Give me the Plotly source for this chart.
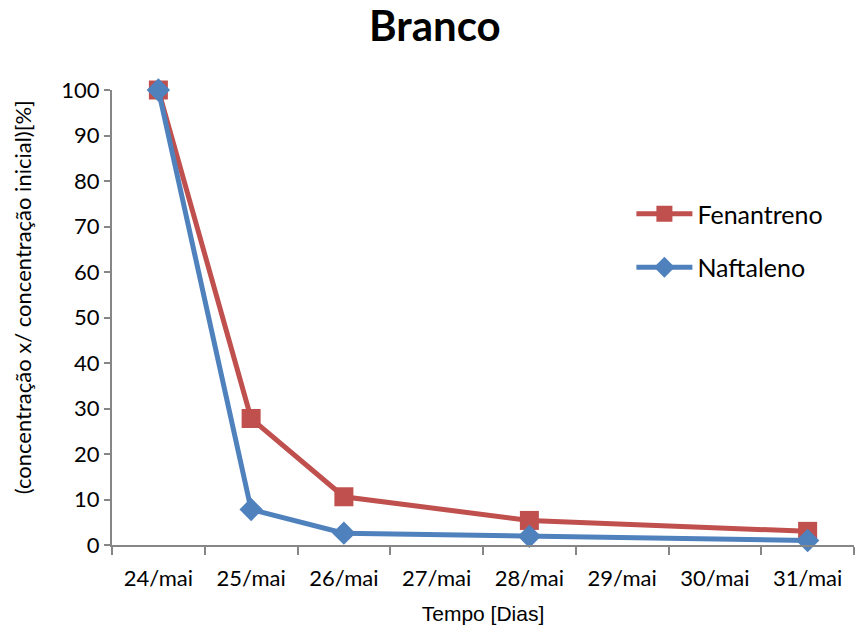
import plotly.graph_objects as go

# Sampling days (all days of the week shown on the axis)
dias = ["24/mai", "25/mai", "26/mai", "27/mai", "28/mai", "29/mai", "30/mai", "31/mai"]

# Measured days and relative concentration [%]
dias_medidos = ["24/mai", "25/mai", "26/mai", "28/mai", "31/mai"]
fenantreno = [100, 27.8, 10.6, 5.4, 3.0]
naftaleno = [100, 7.8, 2.6, 1.9, 1.0]

RED = "#C0504D"
BLUE = "#4F81BD"
AXIS = "#868686"
FONT = "Lato, 'Open Sans', sans-serif"

fig = go.Figure()
fig.add_trace(go.Scatter(
    x=dias_medidos, y=fenantreno, name="Fenantreno", mode="lines+markers",
    line=dict(color=RED, width=5), marker=dict(symbol="square", size=19, color=RED),
    cliponaxis=False, legendgroup="f",
))
fig.add_trace(go.Scatter(
    x=dias_medidos, y=naftaleno, name="Naftaleno", mode="lines+markers",
    line=dict(color=BLUE, width=5), marker=dict(symbol="diamond", size=18, color=BLUE),
    cliponaxis=False, legendgroup="n",
))

# Vertical axis title, placed slightly above the plot centre
fig.add_annotation(
    text="(concentração x/ concentração inicial)[%]", textangle=-90,
    xref="paper", yref="paper", x=-0.121, y=0.545, xanchor="center", yanchor="middle",
    showarrow=False, font=dict(size=22, family=FONT, color="#000000"),
)

fig.update_layout(
    width=856, height=627,
    margin=dict(l=112, r=2, t=90, b=82),
    paper_bgcolor="white", plot_bgcolor="white",
    font=dict(family=FONT, color="#000000"),
    title=dict(text="<b>Branco</b>", x=0.508, xanchor="center", y=0.958, yanchor="middle",
               font=dict(size=42, family=FONT, color="#000000")),
    showlegend=True,
    legend=dict(x=0.70, y=0.778, xanchor="left", yanchor="top",
                font=dict(size=25, family=FONT, color="#000000"),
                traceorder="grouped", tracegroupgap=18, itemwidth=56,
                bgcolor="rgba(0,0,0,0)"),
    xaxis=dict(
        type="category", categoryorder="array", categoryarray=dias,
        range=[-0.5, 7.5], tickson="boundaries", ticks="outside", ticklen=8,
        tickcolor=AXIS, tickwidth=2, showline=True, linecolor=AXIS, linewidth=2,
        showgrid=False, zeroline=False, ticklabelstandoff=13,
        tickfont=dict(size=22, family=FONT, color="#000000"),
        title=dict(text="Tempo [Dias]",
                   font=dict(size=21, family="'Liberation Sans', Arial", color="#000000"),
                   standoff=16),
    ),
    yaxis=dict(
        range=[0, 100], dtick=10, ticks="outside", ticklen=6, tickcolor=AXIS, tickwidth=2,
        showline=True, linecolor=AXIS, linewidth=2, showgrid=False, zeroline=False,
        tickfont=dict(size=22, family=FONT, color="#000000"),
    ),
)

fig.write_html("out.html")
